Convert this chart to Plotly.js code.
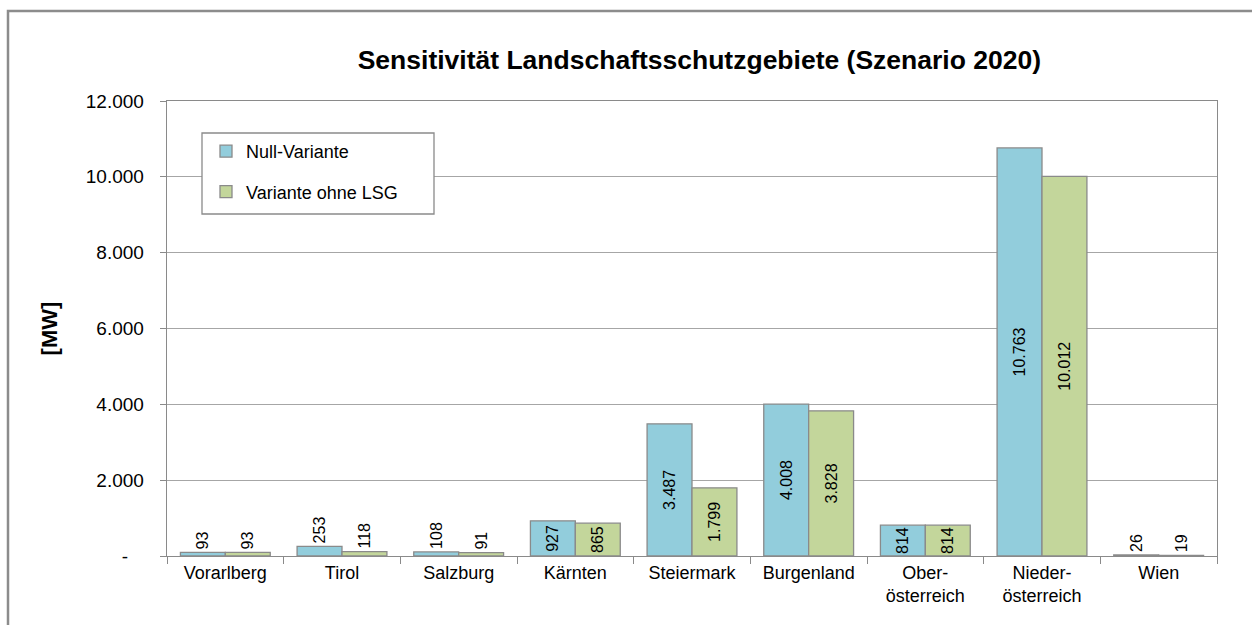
<!DOCTYPE html>
<html>
<head>
<meta charset="utf-8">
<script src="https://cdn.plot.ly/plotly-3.0.1.min.js"></script>
<style>
html,body{margin:0;padding:0;background:#fff;}
#chart{width:1252px;height:625px;}
</style>
</head>
<body>
<div id="chart"></div>
<script>
const categories = ["Vorarlberg", "Tirol", "Salzburg", "Kärnten", "Steiermark", "Burgenland", "Ober-<br>österreich", "Nieder-<br>österreich", "Wien"];
const nullVariante = [93, 253, 108, 927, 3487, 4008, 814, 10763, 26];
const ohneLSG = [93, 118, 91, 865, 1799, 3828, 814, 10012, 19];
const seriesNames = ["Null-Variante", "Variante ohne LSG"];
const yTickVals = [0, 2000, 4000, 6000, 8000, 10000, 12000];
const yTickText = ["-\u00a0\u00a0\u00a0", "2.000", "4.000", "6.000", "8.000", "10.000", "12.000"];

const FONT = "Liberation Sans, Arial, sans-serif";
const pos = v => v.map(x => x > 500 ? "inside" : "outside");

function barTrace(name, y, color, grp) {
  return {
    type: "bar", name: name, x: categories, y: y, legendgroup: grp,
    marker: {color: color, line: {color: "#8a8a8a", width: 1.3}},
    texttemplate: "%{y:,.0f}", textposition: pos(y), textangle: -90,
    insidetextanchor: "middle", constraintext: "none", cliponaxis: false,
    textfont: {family: FONT, size: 16, color: "#000"},
    insidetextfont: {family: FONT, size: 16, color: "#000"},
    outsidetextfont: {family: FONT, size: 16, color: "#000"},
    hoverinfo: "x+y"
  };
}

const data = [
  barTrace(seriesNames[0], nullVariante, "#92CDDC", "a"),
  barTrace(seriesNames[1], ohneLSG, "#C3D69B", "b")
];

const PL = 167, PW = 1050, PB = 556, PH = 455;
const layout = {
  width: 1252, height: 625,
  margin: {l: 167, r: 35, t: 101, b: 69},
  paper_bgcolor: "#fff", plot_bgcolor: "#fff",
  separators: ",.",
  font: {family: FONT, color: "#000", size: 18},
  title: {text: "<b>Sensitivität Landschaftsschutzgebiete (Szenario 2020)</b>",
          font: {family: FONT, size: 26.5, color: "#000"},
          xref: "paper", x: 0.507, xanchor: "center", yref: "container", y: 0.904, yanchor: "middle"},
  barmode: "group", bargap: 0.23, bargroupgap: 0,
  xaxis: {
    type: "category", showgrid: false, showline: true, linecolor: "#8a8a8a", linewidth: 1.3,
    mirror: true, ticks: "outside", tickson: "boundaries", ticklen: 7, tickcolor: "#8a8a8a",
    tickfont: {family: FONT, size: 18, color: "#000"}, zeroline: false
  },
  yaxis: {
    range: [0, 12000], tickvals: yTickVals, ticktext: yTickText,
    showgrid: true, gridcolor: "#a6a6a6", gridwidth: 1.3,
    showline: true, linecolor: "#8a8a8a", linewidth: 1.3, mirror: true,
    ticks: "outside", ticklen: 6, tickcolor: "#8a8a8a", ticklabelstandoff: 12,
    tickfont: {family: FONT, size: 19, color: "#000"}, zeroline: false,
    title: {text: "<b>[MW]</b>", font: {family: FONT, size: 22, color: "#000"}, standoff: 22}
  },
  legend: {
    x: (206 - PL) / PW, y: (PB - 133) / PH, xanchor: "left", yanchor: "top",
    bgcolor: "rgba(0,0,0,0)", borderwidth: 0,
    font: {family: FONT, size: 18, color: "#000"},
    traceorder: "grouped", tracegroupgap: 14,
    itemwidth: 30
  },
  shapes: [{
    type: "rect", xref: "paper", yref: "paper",
    x0: -(PL - 8) / PW, x1: 1.3, y0: -0.3, y1: (PB - 11) / PH,
    line: {color: "#8c8c8c", width: 2.5}, fillcolor: "rgba(0,0,0,0)", layer: "below"
  }, {
    type: "rect", xref: "paper", yref: "paper",
    x0: (202 - PL) / PW, x1: (434 - PL) / PW, y0: (PB - 214) / PH, y1: (PB - 133) / PH,
    line: {color: "#8a8a8a", width: 1.3}, fillcolor: "#fff", layer: "above"
  }]
};

Plotly.newPlot("chart", data, layout, {displayModeBar: false, staticPlot: true});
</script>
</body>
</html>
